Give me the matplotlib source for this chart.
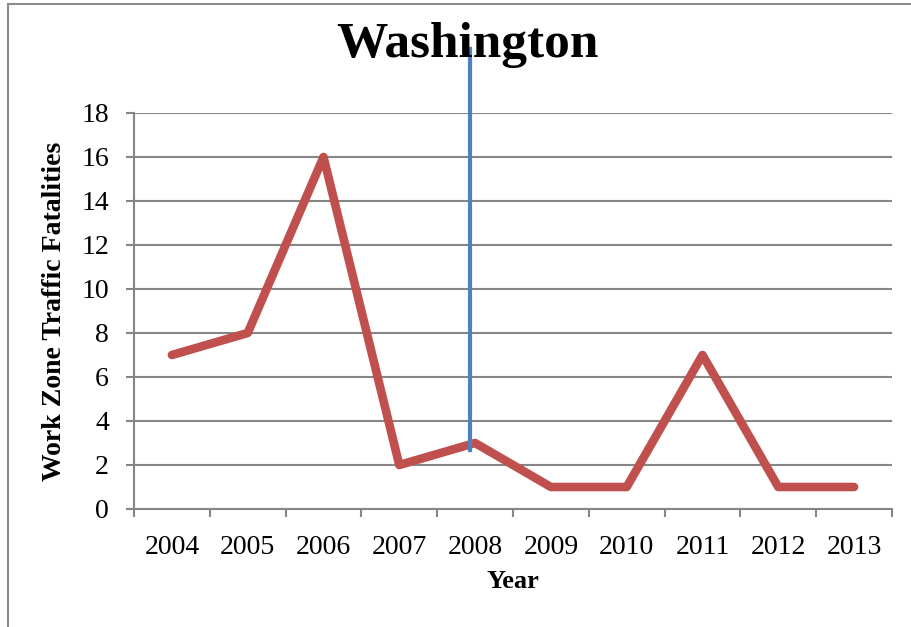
import matplotlib.pyplot as plt
from matplotlib.patches import Rectangle

years = ['2004', '2005', '2006', '2007', '2008', '2009', '2010', '2011', '2012', '2013']
fatalities = [7, 8, 16, 2, 3, 1, 1, 7, 1, 1]
# vertical marker drawn near 2008 (category index), from y_low to y_high
marker_x = 3.93
marker_y = (2.7, 20.9)

serif = ['Liberation Serif', 'DejaVu Serif']
grey = '#868686'

fig = plt.figure(figsize=(9.12, 6.27), dpi=100)
ax = fig.add_axes([134 / 912, 1 - 509 / 627, (892 - 134) / 912, (509 - 113) / 627])

# chart frame
fig.patches.append(Rectangle((8 / 912, -0.05), 1.2, 1 - 4 / 627 + 0.05, transform=fig.transFigure,
                             fill=False, edgecolor='#8c8c8c', linewidth=1.5))

x = range(len(years))
ax.plot(x, fatalities, color='#C0504D', linewidth=6.2, solid_capstyle='round', solid_joinstyle='round', zorder=3)
ax.plot([marker_x, marker_x], marker_y, color='#4F81BD', linewidth=3, clip_on=False, zorder=4)

ax.set_xlim(-0.5, len(years) - 0.5)
ax.set_ylim(0, 18)
ax.set_yticks(range(0, 19, 2))
ax.yaxis.grid(True, color=grey, linewidth=1.5)
ax.set_axisbelow(True)

ax.set_xticks(x)
ax.set_xticklabels(years, fontsize=20, family=serif)
ax.set_xticks([i - 0.5 for i in range(len(years) + 1)], minor=True)
ax.tick_params(axis='x', which='major', length=0, pad=19)
ax.tick_params(axis='x', which='minor', length=6, width=1.5, color=grey, direction='out')
ax.tick_params(axis='y', length=6, width=1.5, color=grey, direction='out', pad=12)
for lab in ax.get_yticklabels():
    lab.set_fontsize(20)
    lab.set_family(serif)

for s in ['top', 'right']:
    ax.spines[s].set_visible(False)
for s in ['left', 'bottom']:
    ax.spines[s].set_color(grey)
    ax.spines[s].set_linewidth(1.5)

ax.set_xlabel('Year', fontsize=19, fontweight='bold', family=serif, labelpad=7)
ax.set_ylabel('Work Zone Traffic Fatalities', fontsize=20, fontweight='bold', family=serif, labelpad=10)
fig.text(0.513, 1 - 45 / 627, 'Washington', ha='center', va='center', fontsize=37, fontweight='bold',
         family=serif)

fig.savefig('out.png', dpi=100)
